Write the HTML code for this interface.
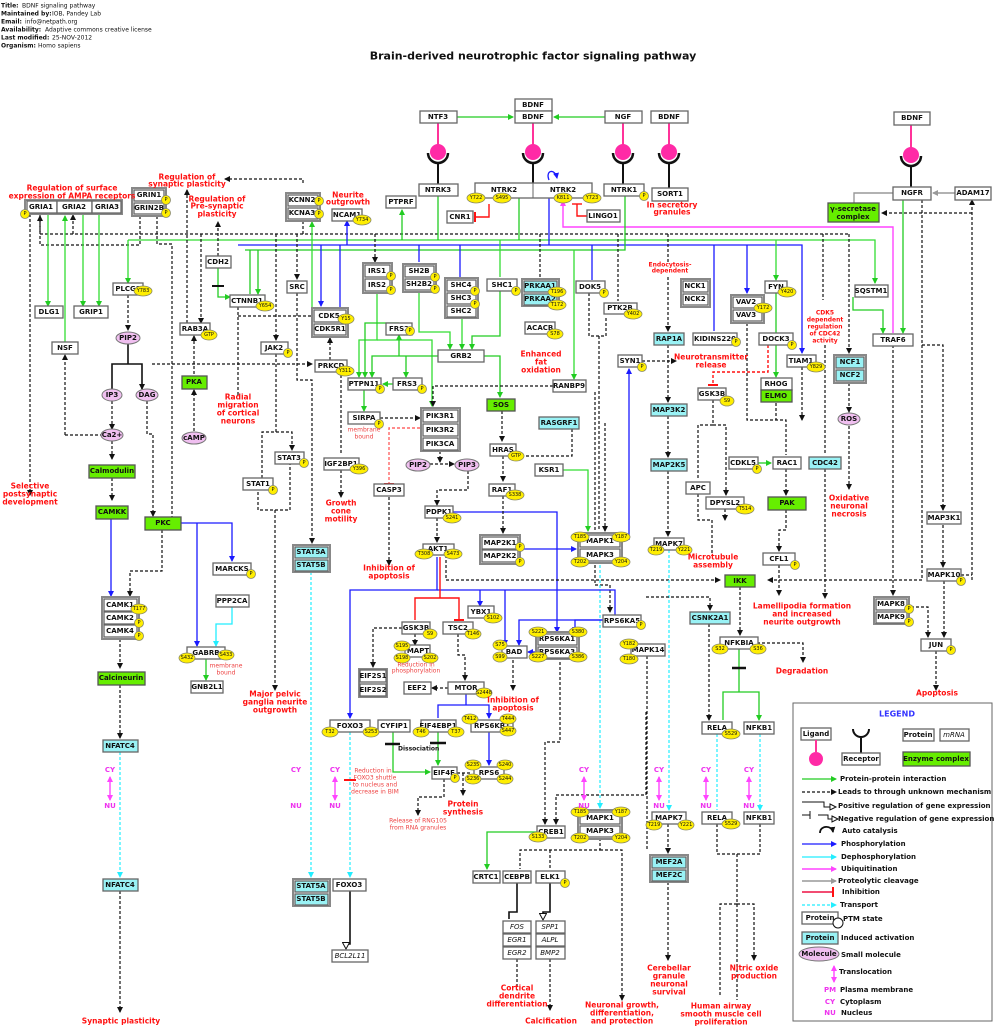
<!DOCTYPE html>
<html><head><meta charset="utf-8"><style>
html,body{margin:0;padding:0;background:#fff}
svg{display:block}
text{font-family:"DejaVu Sans","Liberation Sans",sans-serif;font-weight:bold;font-size:7px;text-anchor:middle;dominant-baseline:central;fill:#111}
.b{fill:#fff;stroke:#666;stroke-width:1.3}
.c{fill:#99f2f5;stroke:#666;stroke-width:1.3}
.g{fill:#66ee00;stroke:#555;stroke-width:1.3}
.gr{fill:#fff;stroke:#888;stroke-width:2}
.p{fill:#ffee00;stroke:#886;stroke-width:.8}
.pt{font-size:5px;font-weight:normal}
.r{fill:#ff1111;font-size:7.5px}
.rs{fill:#ee4444;font-size:6px;font-weight:normal}
.m{fill:#ee33ee;font-size:7px}
.mol{fill:#f0bff0;stroke:#777;stroke-width:1}
.hd{text-anchor:start;font-size:6px;font-weight:normal}
.hb{text-anchor:start;font-size:6px}
.lg{text-anchor:start;font-size:7px}
.i{font-style:italic;font-weight:normal}
.G{stroke:#22cc22;stroke-width:1.3;fill:none}
.L{stroke:#33dd33;stroke-width:1.3;fill:none}
.B{stroke:#1a1aff;stroke-width:1.3;fill:none}
.K{stroke:#111;stroke-width:1.2;fill:none;stroke-dasharray:3,2}
.KS{stroke:#111;stroke-width:1.6;fill:none}
.C{stroke:#22eeff;stroke-width:1.2;fill:none;stroke-dasharray:3,2}
.R{stroke:#ff1111;stroke-width:1.4;fill:none}
.M{stroke:#ff44ff;stroke-width:1.4;fill:none}
.Y{stroke:#999;stroke-width:1.4;fill:none}
.pk{stroke:#ff3399;stroke-width:2;fill:none}
</style></head><body>
<svg width="1000" height="1036" viewBox="0 0 1000 1036" xmlns="http://www.w3.org/2000/svg">
<defs>
<marker id="ag" markerUnits="userSpaceOnUse" markerWidth="6" markerHeight="6" refX="5" refY="3" orient="auto-start-reverse"><path d="M0,0L6,3L0,6z" fill="#22cc22"/></marker>
<marker id="ab" markerUnits="userSpaceOnUse" markerWidth="6" markerHeight="6" refX="5" refY="3" orient="auto-start-reverse"><path d="M0,0L6,3L0,6z" fill="#1a1aff"/></marker>
<marker id="ak" markerUnits="userSpaceOnUse" markerWidth="6" markerHeight="6" refX="5" refY="3" orient="auto-start-reverse"><path d="M0,0L6,3L0,6z" fill="#111"/></marker>
<marker id="ac" markerUnits="userSpaceOnUse" markerWidth="6" markerHeight="6" refX="5" refY="3" orient="auto-start-reverse"><path d="M0,0L6,3L0,6z" fill="#22eeff"/></marker>
<marker id="am" markerUnits="userSpaceOnUse" markerWidth="6" markerHeight="6" refX="5" refY="3" orient="auto-start-reverse"><path d="M0,0L6,3L0,6z" fill="#ff44ff"/></marker>
<marker id="ay" markerUnits="userSpaceOnUse" markerWidth="6" markerHeight="6" refX="5" refY="3" orient="auto-start-reverse"><path d="M0,0L6,3L0,6z" fill="#999"/></marker>
<marker id="ai" markerUnits="userSpaceOnUse" markerWidth="3" markerHeight="10" refX="1.5" refY="5" orient="auto"><path d="M1.5,0V10" stroke="#ff1111" stroke-width="2"/></marker>
<marker id="ao" markerUnits="userSpaceOnUse" markerWidth="8" markerHeight="8" refX="6" refY="4" orient="auto"><path d="M0.5,0.5L7,4L0.5,7.5z" fill="#fff" stroke="#111"/></marker>
</defs>

<!-- header -->
<text class="hb" x="1" y="6">Title:</text><text class="hd" x="22" y="6">BDNF signaling pathway</text>
<text class="hb" x="1" y="14">Maintained by:</text><text class="hd" x="52" y="14">IOB, Pandey Lab</text>
<text class="hb" x="1" y="22">Email:</text><text class="hd" x="25" y="22">info@netpath.org</text>
<text class="hb" x="1" y="30">Availability:</text><text class="hd" x="45" y="30">Adaptive commons creative license</text>
<text class="hb" x="1" y="38">Last modified:</text><text class="hd" x="52" y="38">25-NOV-2012</text>
<text class="hb" x="1" y="46">Organism:</text><text class="hd" x="38" y="46">Homo sapiens</text>
<text x="533" y="56" style="font-size:11px">Brain-derived neurotrophic factor signaling pathway</text>

<!-- ======== EDGES ======== -->
<g>
<path class="G" d="M457,117H513" marker-end="url(#ag)"/><path class="G" d="M605,117H554" marker-end="url(#ag)"/>
<path class="pk" d="M438,123V148M533,123V148M623,123V148M669,123V148M911,125V150"/>
<path class="KS" d="M438,162V184M533,162V183M623,162V184M669,162V188M911,165V187" style="stroke-width:2"/>
<path d="M428,153A10,10 0 0 0 448,153M523,153A10,10 0 0 0 543,153M613,153A10,10 0 0 0 633,153M659,153A10,10 0 0 0 679,153M901,156A10,10 0 0 0 921,156" stroke="#111" stroke-width="2.5" fill="none"/>
<path class="B" d="M549,180C545,170 555,168 557,178" marker-end="url(#ab)"/>
<path class="R" d="M489,204V217H475" marker-end="url(#ai)"/>
<path class="R" d="M577,204V216H587" /><path class="R" d="M572,204H582" />
<path class="Y" d="M955,193H933" marker-end="url(#ay)"/>
<path class="Y" d="M893,193H854V203" />
<path class="K" d="M972,580V200" marker-end="url(#ak)"/><path class="K" d="M972,213H882" marker-end="url(#ak)"/>
<path class="G" d="M903,200V333" marker-end="url(#ag)"/>
<path class="K" d="M922,200V580H768" marker-end="url(#ak)"/>
<path class="K" d="M922,345H943V510" marker-end="url(#ak)"/>
<path class="K" d="M943,525V567" marker-end="url(#ak)"/>
<path class="K" d="M961,575H972"/>
<path class="K" d="M893,345V595" marker-end="url(#ak)"/>
<path class="K" d="M944,581V637" marker-end="url(#ak)"/>
<path class="K" d="M911,607H928V637" marker-end="url(#ak)"/>
<path class="K" d="M936,651V690" marker-end="url(#ak)"/>
<path class="M" d="M893,333V227H563V201" marker-end="url(#am)"/>
<path class="K" d="M40,234H850"/>
<path class="L" d="M128,240H875V283" marker-end="url(#ag)"/>
<path class="B" d="M238,245H802V353" marker-end="url(#ab)"/>
<path class="G" d="M245,250H625V196"/>
<path class="G" d="M438,196V240"/><path class="B" d="M549,198V245"/><path class="G" d="M519,198V240"/>
<path class="K" d="M40,214V234"/><path class="K" d="M30,214V495" marker-end="url(#ak)"/>
<path class="K" d="M140,216V245H40V216" marker-end="url(#ak)"/>
<path class="K" d="M73,234V215" marker-end="url(#ak)"/>
<path class="K" d="M157,216V244H172V528" marker-end="url(#ak)"/>
<path class="K" d="M303,221V234"/>
<path class="K" d="M303,183V179H225" marker-end="url(#ak)"/>
<path class="K" d="M187,323V190" marker-end="url(#ak)"/>
<path class="K" d="M201,234V323" marker-end="url(#ak)"/>
<path class="K" d="M218,256V222" marker-end="url(#ak)"/>
<path class="G" d="M218,268V297H230" marker-end="url(#ag)"/><path d="M212,286H224" stroke="#111" stroke-width="2"/>
<path class="L" d="M48,214V306" marker-end="url(#ag)"/><path class="L" d="M83,214V306" marker-end="url(#ag)"/><path class="L" d="M99,214V306" marker-end="url(#ag)"/>
<path class="L" d="M65,342V216" marker-end="url(#ag)"/>
<path class="L" d="M128,240V283" marker-end="url(#ag)"/>
<path class="K" d="M128,295V330" marker-end="url(#ak)"/>
<path class="KS" d="M128,344V364H112V389M128,364H142V389" marker-end="url(#ak)"/>
<path class="K" d="M112,401V429" marker-end="url(#ak)"/>
<path class="K" d="M65,435H104M65,435V355" marker-end="url(#ak)"/>
<path class="K" d="M112,441V459" marker-end="url(#ak)"/>
<path class="K" d="M112,478V500" marker-end="url(#ak)"/>
<path class="B" d="M111,519V596" marker-end="url(#ab)"/>
<path class="K" d="M147,401V434H153V516" marker-end="url(#ak)"/>
<path class="K" d="M152,364H312" marker-end="url(#ak)"/>
<path class="K" d="M162,530V571H130V596" marker-end="url(#ak)"/>
<path class="B" d="M181,523H232V561" marker-end="url(#ab)"/><path class="B" d="M197,523V646" marker-end="url(#ab)"/>
<path class="B" d="M232,607V624H216V646" style="stroke:#22eeff" marker-end="url(#ac)"/>
<path class="G" d="M206,659V680" marker-end="url(#ag)"/>
<path class="K" d="M120,639V668" marker-end="url(#ak)"/>
<path class="K" d="M120,685V738" marker-end="url(#ak)"/>
<path class="C" d="M120,752V877" marker-end="url(#ac)"/>
<path class="K" d="M120,891V1012" marker-end="url(#ak)"/>
<path class="K" d="M194,389V336" marker-end="url(#ak)"/>
<path class="K" d="M194,431V390" marker-end="url(#ak)"/>
<path class="K" d="M238,307V395"/><path class="K" d="M238,316H312"/>
<path class="K" d="M276,234V340" marker-end="url(#ak)"/>
<path class="K" d="M276,354V432H262V478M276,432H292V450" marker-end="url(#ak)"/>
<path class="K" d="M258,492V510H290V464M275,510V690" marker-end="url(#ak)"/>
<path class="K" d="M297,234V279" marker-end="url(#ak)"/>
<path class="K" d="M297,293V380H312V543" marker-end="url(#ak)"/>
<path class="C" d="M311,572V877" marker-end="url(#ac)"/>
<path class="K" d="M330,360V338" marker-end="url(#ak)"/>
<path class="K" d="M341,370V455M341,470V497" marker-end="url(#ak)"/>
<path class="B" d="M321,245V306" marker-end="url(#ab)"/><path class="B" d="M340,308V245M347,245V221" marker-end="url(#ab)"/>
<path class="L" d="M312,308V222" marker-end="url(#ag)"/>
<path class="G" d="M402,240V210" marker-end="url(#ag)"/>
<path class="K" d="M375,234V262" marker-end="url(#ak)"/>
<path class="B" d="M419,245V262M460,245V277M592,245V280M714,245V331M747,245V293" marker-end="url(#ab)"/>
<path class="K" d="M540,234V277M618,234V301M668,234V263M823,234V300M849,234V353" marker-end="url(#ak)"/>
<path class="L" d="M500,240V277M776,240V280" marker-end="url(#ag)"/>
<path class="L" d="M574,250V379" marker-end="url(#ag)"/>
<path class="G" d="M250,250V294M258,250V294" marker-end="url(#ag)"/>
<path class="L" d="M377,292V340H359V377" marker-end="url(#ag)"/>
<path class="L" d="M377,340H432V406" marker-end="url(#ag)"/>
<path class="L" d="M419,292V332H450V349" marker-end="url(#ag)"/>
<path class="L" d="M462,318V349" marker-end="url(#ag)"/>
<path class="G" d="M500,290V336H472V349" marker-end="url(#ag)"/>
<path class="G" d="M484,356H500V397" marker-end="url(#ag)"/>
<path class="G" d="M438,356H372V377" marker-end="url(#ag)"/>
<path class="G" d="M399,323H365V377" marker-end="url(#ag)"/>
<path class="G" d="M399,356V335" marker-end="url(#ag)"/><path class="G" d="M406,356V377" marker-end="url(#ag)"/>
<path class="G" d="M393,384H383" marker-end="url(#ag)"/>
<path class="G" d="M364,390V411" marker-end="url(#ag)"/>
<path class="K" d="M380,418H420" marker-end="url(#ak)"/>
<path class="K" d="M553,386H433V406" marker-end="url(#ak)"/>
<path class="R" d="M420,428H389V484" marker-end="url(#ai)" style="stroke-dasharray:3,2;stroke:#ff6666"/>
<path class="K" d="M389,497V565" marker-end="url(#ak)"/>
<path class="K" d="M440,451V462" marker-end="url(#ak)"/>
<path class="K" d="M430,464H454" marker-end="url(#ak)"/>
<path class="K" d="M468,471V490H437V505" marker-end="url(#ak)"/>
<path class="K" d="M437,518V542" marker-end="url(#ak)"/>
<path class="B" d="M452,512H557V632" marker-end="url(#ab)"/>
<path class="K" d="M502,411V441" marker-end="url(#ak)"/>
<path class="K" d="M572,429V456H518" marker-end="url(#ak)"/>
<path class="K" d="M503,456V481" marker-end="url(#ak)"/>
<path class="K" d="M503,496V533" marker-end="url(#ak)"/>
<path class="B" d="M521,549H576" marker-end="url(#ab)"/>
<path class="L" d="M563,470H588V531" marker-end="url(#ag)"/>
<path class="K" d="M595,392V531M605,423V531" marker-end="url(#ak)"/>
<path class="B" d="M629,540V369" marker-end="url(#ab)"/>
<path class="K" d="M589,293V336H606V316" />
<path class="K" d="M599,336V531"/>
<path class="K" d="M642,361H676" marker-end="url(#ak)"/>
<path class="K" d="M595,565V585H610V612" marker-end="url(#ak)"/>
<path class="C" d="M600,565V808" marker-end="url(#ac)"/>
<path class="K" d="M446,555V580H720" marker-end="url(#ak)"/>
<path class="K" d="M668,277V331" marker-end="url(#ak)"/>
<path class="K" d="M668,345V402" marker-end="url(#ak)"/>
<path class="K" d="M668,416V457" marker-end="url(#ak)"/>
<path class="K" d="M668,471V536" marker-end="url(#ak)"/>
<path class="C" d="M669,550V810" marker-end="url(#ac)"/>
<path class="K" d="M668,824V853" marker-end="url(#ak)"/>
<path class="K" d="M668,882V960" marker-end="url(#ak)"/>
<path class="R" d="M768,345V372H713V385" marker-end="url(#ai)" style="stroke-dasharray:3,2"/>
<path class="K" d="M713,400V425H698V480M713,425H726V495" marker-end="url(#ak)"/>
<path class="K" d="M698,494V520H712V555M725,509V520" marker-end="url(#ak)"/>
<path class="G" d="M776,293V377" marker-end="url(#ag)"/>
<path class="K" d="M747,323V420H786V455M776,403V420M802,367V420" marker-end="url(#ak)"/>
<path class="G" d="M758,463H771" marker-end="url(#ag)"/>
<path class="K" d="M786,469V495" marker-end="url(#ak)"/>
<path class="K" d="M786,510V530H779V551" marker-end="url(#ak)"/>
<path class="K" d="M779,565V595" marker-end="url(#ak)"/>
<path class="K" d="M825,345V455M825,469V598" marker-end="url(#ak)"/>
<path class="K" d="M849,383V412" marker-end="url(#ak)"/>
<path class="K" d="M849,426V489" marker-end="url(#ak)"/>
<path class="G" d="M853,297V310H883V333" marker-end="url(#ag)"/>
<path class="K" d="M740,587V635" marker-end="url(#ak)"/>
<path class="K" d="M757,643H803V662" marker-end="url(#ak)"/>
<path class="G" d="M739,649V692H723V720M739,692H759V720" marker-end="url(#ag)"/>
<path d="M732,668H746" stroke="#111" stroke-width="2.5"/>
<path class="K" d="M646,597H710V610" marker-end="url(#ak)"/>
<path class="K" d="M709,624V720" marker-end="url(#ak)"/>
<path class="C" d="M717,734V810M760,734V810" marker-end="url(#ac)"/>
<path class="K" d="M717,824V854H760V824M737,854V1000M737,904H720V995M737,904H754V960" marker-end="url(#ak)"/>
<path class="K" d="M647,656V850"/>
<path class="K" d="M600,838V850H520V869M550,850V869M600,850H622V1000" marker-end="url(#ak)"/>
<path class="K" d="M646,712V795H556V824" marker-end="url(#ak)"/>
<path class="K" d="M560,657V742H545V824" marker-end="url(#ak)"/>
<path class="G" d="M537,832H487V869" marker-end="url(#ag)"/>
<path class="KS" d="M517,883V912H509V919M550,883V912H543V919" marker-end="url(#ao)"/>
<path class="K" d="M517,959V990M550,959V1010" marker-end="url(#ak)"/>
<path class="B" d="M437,557V590H350V718" marker-end="url(#ab)"/>
<path class="B" d="M437,590H615V620H575V632" marker-end="url(#ab)"/>
<path class="B" d="M480,590V606" marker-end="url(#ab)"/>
<path class="R" d="M440,557V598H415V620M440,598H459V620" marker-end="url(#ai)"/>
<path class="B" d="M505,590V645" marker-end="url(#ab)"/>
<path class="B" d="M603,620H519V645" marker-end="url(#ab)"/>
<path class="B" d="M536,652H528" marker-end="url(#ab)"/>
<path class="K" d="M513,660V690" marker-end="url(#ak)"/>
<path class="K" d="M402,628H373V667" marker-end="url(#ak)"/>
<path class="K" d="M415,634V645" marker-end="url(#ak)"/>
<path class="K" d="M458,634V655H465V680" marker-end="url(#ak)"/>
<path class="K" d="M448,688H432" marker-end="url(#ak)"/>
<path class="B" d="M466,694V705H438V718M466,705H489V718" marker-end="url(#ab)"/>
<path class="B" d="M489,732V765" marker-end="url(#ab)"/>
<path class="G" d="M438,732V765" marker-end="url(#ag)"/><path d="M430,743H446" stroke="#111" stroke-width="2.5"/>
<path class="G" d="M393,732V772H430" marker-end="url(#ag)"/><path d="M385,744H400" stroke="#111" stroke-width="2.5"/>
<path class="K" d="M457,773H470"/><path class="K" d="M463,773V795" marker-end="url(#ak)"/>
<path class="K" d="M444,779V797H418V815" marker-end="url(#ak)"/>
<path class="C" d="M350,732V877" marker-end="url(#ac)"/>
<path class="KS" d="M350,891V944H346V948" marker-end="url(#ao)"/>
<path d="M344,780H356" stroke="#ff1111" stroke-width="2"/>
<path class="M" d="M110,777V800" marker-end="url(#am)" marker-start="url(#am)"/>
<path class="M" d="M335,777V800" marker-end="url(#am)" marker-start="url(#am)"/>
<path class="M" d="M584,777V800" marker-end="url(#am)" marker-start="url(#am)"/>
<path class="M" d="M659,777V800" marker-end="url(#am)" marker-start="url(#am)"/>
<path class="M" d="M706,777V800" marker-end="url(#am)" marker-start="url(#am)"/>
<path class="M" d="M749,777V800" marker-end="url(#am)" marker-start="url(#am)"/>
</g>

<g fill="#ff2aa6">
<circle cx="438" cy="152" r="8"/><circle cx="533" cy="152" r="8"/><circle cx="623" cy="152" r="8"/><circle cx="669" cy="152" r="8"/><circle cx="911" cy="155" r="8"/>
</g>

<!-- ======== NODES ======== -->
<g>
<rect class="b" x="420" y="111" width="37" height="12"/><text x="438" y="117">NTF3</text>
<rect class="b" x="515" y="99" width="37" height="12"/><text x="533" y="105">BDNF</text>
<rect class="b" x="515" y="111" width="37" height="12"/><text x="533" y="117">BDNF</text>
<rect class="b" x="605" y="111" width="37" height="12"/><text x="623" y="117">NGF</text>
<rect class="b" x="651" y="111" width="37" height="12"/><text x="669" y="117">BDNF</text>
<rect class="b" x="894" y="112" width="36" height="13"/><text x="912" y="118">BDNF</text>
<rect class="b" x="419" y="184" width="39" height="12"/><text x="438" y="190">NTRK3</text>
<rect class="b" x="475" y="183" width="117" height="15"/><line x1="533" y1="183" x2="533" y2="198" stroke="#666"/>
<text x="504" y="190">NTRK2</text><text x="563" y="190">NTRK2</text>
<rect class="b" x="604" y="184" width="40" height="12"/><text x="624" y="190">NTRK1</text>
<rect class="b" x="652" y="188" width="36" height="13"/><text x="670" y="194">SORT1</text>
<rect class="b" x="893" y="187" width="38" height="13"/><text x="912" y="193">NGFR</text>
<rect class="b" x="955" y="187" width="36" height="13"/><text x="973" y="193">ADAM17</text>
<rect class="g" x="828" y="203" width="51" height="19"/><text x="853" y="209">γ-secretase</text><text x="853" y="217">complex</text>
<rect class="b" x="587" y="210" width="33" height="12"/><text x="603" y="216">LINGO1</text>
<rect class="b" x="447" y="211" width="26" height="12"/><text x="460" y="217">CNR1</text>
<rect class="b" x="386" y="196" width="30" height="12"/><text x="401" y="202">PTPRF</text>
<rect class="b" x="332" y="209" width="30" height="12"/><text x="347" y="215">NCAM1</text>
<rect class="gr" x="286" y="193" width="34" height="28"/><rect class="b" x="288" y="195" width="30" height="11"/><rect class="b" x="288" y="208" width="30" height="11"/><text x="302" y="200">KCNN2</text><text x="302" y="213">KCNA3</text>
<rect class="gr" x="132" y="188" width="34" height="28"/><rect class="b" x="134" y="190" width="30" height="11"/><rect class="b" x="134" y="203" width="30" height="11"/><text x="149" y="195">GRIN1</text><text x="149" y="208">GRIN2B</text>
<rect class="gr" x="25" y="200" width="97" height="14"/><rect class="b" x="27" y="201" width="30" height="12"/><rect class="b" x="57" y="201" width="35" height="12"/><rect class="b" x="92" y="201" width="29" height="12"/>
<text x="41" y="207">GRIA1</text><text x="74" y="207">GRIA2</text><text x="107" y="207">GRIA3</text>
<rect class="b" x="206" y="256" width="25" height="12"/><text x="218" y="262">CDH2</text>
<rect class="b" x="230" y="295" width="35" height="12"/><text x="247" y="301">CTNNB1</text>
<rect class="b" x="287" y="281" width="20" height="12"/><text x="297" y="287">SRC</text>
<rect class="b" x="113" y="283" width="30" height="12"/><text x="128" y="289">PLCG1</text>
<rect class="b" x="35" y="306" width="28" height="12"/><text x="49" y="312">DLG1</text>
<rect class="b" x="74" y="306" width="34" height="12"/><text x="91" y="312">GRIP1</text>
<rect class="gr" x="363" y="263" width="29" height="30"/><rect class="b" x="365" y="265" width="25" height="12"/><rect class="b" x="365" y="279" width="25" height="12"/><text x="377" y="271">IRS1</text><text x="377" y="285">IRS2</text>
<rect class="gr" x="403" y="264" width="33" height="28"/><rect class="b" x="405" y="266" width="29" height="11"/><rect class="b" x="405" y="279" width="29" height="11"/><text x="419" y="271">SH2B</text><text x="419" y="284">SH2B2</text>
<rect class="gr" x="445" y="278" width="33" height="40"/><rect class="b" x="447" y="280" width="29" height="11"/><rect class="b" x="447" y="293" width="29" height="11"/><rect class="b" x="447" y="306" width="29" height="11"/><text x="461" y="285">SHC4</text><text x="461" y="298">SHC3</text><text x="461" y="311">SHC2</text>
<rect class="b" x="487" y="279" width="30" height="12"/><text x="502" y="285">SHC1</text>
<rect class="gr" x="522" y="279" width="37" height="27"/><rect class="c" x="524" y="281" width="33" height="11"/><rect class="c" x="524" y="294" width="33" height="11"/><text x="540" y="286">PRKAA1</text><text x="540" y="299">PRKAA2</text>
<rect class="b" x="576" y="281" width="29" height="12"/><text x="590" y="287">DOK5</text>
<rect class="b" x="604" y="303" width="33" height="11"/><text x="620" y="308">PTK2B</text>
<rect class="gr" x="681" y="279" width="29" height="28"/><rect class="b" x="683" y="281" width="25" height="11"/><rect class="b" x="683" y="294" width="25" height="11"/><text x="695" y="286">NCK1</text><text x="695" y="299">NCK2</text>
<rect class="gr" x="731" y="295" width="33" height="28"/><rect class="b" x="733" y="297" width="29" height="11"/><rect class="b" x="733" y="310" width="29" height="11"/><text x="746" y="302">VAV2</text><text x="746" y="315">VAV3</text>
<rect class="b" x="765" y="281" width="22" height="12"/><text x="776" y="287">FYN</text>
<rect class="b" x="855" y="285" width="33" height="12"/><text x="871" y="291">SQSTM1</text>
<rect class="b" x="873" y="334" width="40" height="12"/><text x="893" y="340">TRAF6</text>
<rect class="b" x="693" y="333" width="44" height="12"/><text x="715" y="339">KIDINS220</text>
<rect class="b" x="759" y="333" width="34" height="12"/><text x="776" y="339">DOCK3</text>
<rect class="b" x="787" y="355" width="29" height="12"/><text x="801" y="361">TIAM1</text>
<rect class="b" x="761" y="378" width="31" height="12"/><text x="776" y="384">RHOG</text>
<rect class="g" x="761" y="390" width="31" height="12"/><text x="776" y="396">ELMO</text>
<rect class="gr" x="834" y="355" width="32" height="28"/><rect class="c" x="836" y="357" width="28" height="11"/><rect class="c" x="836" y="370" width="28" height="11"/><text x="850" y="362">NCF1</text><text x="850" y="375">NCF2</text>
<rect class="c" x="654" y="333" width="30" height="12"/><text x="669" y="339">RAP1A</text>
<rect class="b" x="618" y="355" width="24" height="12"/><text x="630" y="361">SYN1</text>
<rect class="b" x="698" y="388" width="28" height="12"/><text x="712" y="394">GSK3B</text>
<rect class="c" x="651" y="404" width="36" height="12"/><text x="669" y="410">MAP3K2</text>
<ellipse class="mol" cx="849" cy="419" rx="11" ry="6"/><text x="849" y="419">ROS</text>
<rect class="b" x="729" y="457" width="29" height="12"/><text x="743" y="463">CDKL5</text>
<rect class="b" x="773" y="457" width="28" height="12"/><text x="787" y="463">RAC1</text>
<rect class="c" x="809" y="457" width="32" height="12"/><text x="825" y="463">CDC42</text>
<rect class="c" x="651" y="459" width="36" height="12"/><text x="669" y="465">MAP2K5</text>
<rect class="b" x="686" y="482" width="24" height="12"/><text x="698" y="488">APC</text>
<rect class="b" x="706" y="497" width="38" height="12"/><text x="725" y="503">DPYSL2</text>
<rect class="g" x="768" y="497" width="38" height="13"/><text x="787" y="503">PAK</text>
<rect class="b" x="927" y="512" width="34" height="12"/><text x="944" y="518">MAP3K1</text>
<rect class="b" x="654" y="538" width="30" height="12"/><text x="669" y="544">MAPK7</text>
<rect class="b" x="763" y="553" width="32" height="12"/><text x="779" y="559">CFL1</text>
<rect class="b" x="927" y="569" width="34" height="12"/><text x="944" y="575">MAPK10</text>
<rect class="g" x="725" y="575" width="30" height="12"/><text x="740" y="581">IKK</text>
<rect class="gr" x="874" y="597" width="35" height="27"/><rect class="b" x="876" y="599" width="31" height="11"/><rect class="b" x="876" y="612" width="31" height="11"/><text x="891" y="604">MAPK8</text><text x="891" y="617">MAPK9</text>
<rect class="b" x="921" y="639" width="30" height="12"/><text x="936" y="645">JUN</text>
<rect class="b" x="720" y="637" width="38" height="12"/><text x="739" y="643">NFKBIA</text>
<rect class="c" x="690" y="612" width="40" height="12"/><text x="710" y="618">CSNK2A1</text>
<rect class="b" x="603" y="615" width="38" height="12"/><text x="622" y="621">RPS6KA5</text>
<rect class="b" x="631" y="644" width="34" height="12"/><text x="648" y="650">MAPK14</text>
<rect class="b" x="702" y="722" width="30" height="12"/><text x="717" y="728">RELA</text>
<rect class="b" x="744" y="722" width="30" height="12"/><text x="759" y="728">NFKB1</text>
<rect class="b" x="702" y="812" width="30" height="12"/><text x="717" y="818">RELA</text>
<rect class="b" x="744" y="812" width="30" height="12"/><text x="759" y="818">NFKB1</text>
<rect class="b" x="652" y="812" width="34" height="12"/><text x="669" y="818">MAPK7</text>
<rect class="gr" x="650" y="855" width="38" height="27"/><rect class="c" x="652" y="857" width="34" height="11"/><rect class="c" x="652" y="870" width="34" height="11"/><text x="669" y="862">MEF2A</text><text x="669" y="875">MEF2C</text>
<rect class="gr" x="578" y="533" width="44" height="30"/><rect class="b" x="580" y="535" width="40" height="12"/><rect class="b" x="580" y="549" width="40" height="12"/><text x="600" y="541">MAPK1</text><text x="600" y="555">MAPK3</text>
<rect class="gr" x="578" y="810" width="44" height="29"/><rect class="b" x="580" y="812" width="40" height="12"/><rect class="b" x="580" y="826" width="40" height="11"/><text x="600" y="818">MAPK1</text><text x="600" y="831">MAPK3</text>
<rect class="b" x="537" y="826" width="28" height="12"/><text x="551" y="832">CREB1</text>
<rect class="b" x="473" y="871" width="27" height="12"/><text x="486" y="877">CRTC1</text>
<rect class="b" x="503" y="871" width="28" height="12"/><text x="517" y="877">CEBPB</text>
<rect class="b" x="536" y="871" width="29" height="12"/><text x="550" y="877">ELK1</text>
<rect class="b" x="503" y="921" width="28" height="12"/><text class="i" x="517" y="927">FOS</text>
<rect class="b" x="503" y="934" width="28" height="12"/><text class="i" x="517" y="940">EGR1</text>
<rect class="b" x="503" y="947" width="28" height="12"/><text class="i" x="517" y="953">EGR2</text>
<rect class="b" x="536" y="921" width="29" height="12"/><text class="i" x="550" y="927">SPP1</text>
<rect class="b" x="536" y="934" width="29" height="12"/><text class="i" x="550" y="940">ALPL</text>
<rect class="b" x="536" y="947" width="29" height="12"/><text class="i" x="550" y="953">BMP2</text>
<rect class="b" x="535" y="464" width="28" height="12"/><text x="549" y="470">KSR1</text>
<rect class="c" x="539" y="417" width="40" height="12"/><text x="559" y="423">RASGRF1</text>
<rect class="g" x="487" y="399" width="28" height="12"/><text x="501" y="405">SOS</text>
<rect class="b" x="490" y="444" width="26" height="12"/><text x="503" y="450">HRAS</text>
<rect class="b" x="489" y="484" width="26" height="12"/><text x="502" y="490">RAF1</text>
<rect class="gr" x="480" y="535" width="40" height="29"/><rect class="b" x="482" y="537" width="36" height="12"/><rect class="b" x="482" y="550" width="36" height="12"/><text x="500" y="543">MAP2K1</text><text x="500" y="556">MAP2K2</text>
<rect class="b" x="553" y="380" width="33" height="12"/><text x="569" y="386">RANBP9</text>
<rect class="b" x="525" y="322" width="30" height="12"/><text x="540" y="328">ACACB</text>
<rect class="b" x="438" y="350" width="46" height="12"/><text x="461" y="356">GRB2</text>
<rect class="b" x="386" y="323" width="26" height="12"/><text x="399" y="329">FRS2</text>
<rect class="b" x="393" y="378" width="29" height="12"/><text x="407" y="384">FRS3</text>
<rect class="b" x="348" y="378" width="33" height="12"/><text x="364" y="384">PTPN11</text>
<rect class="b" x="348" y="412" width="32" height="12"/><text x="364" y="418">SIRPA</text>
<rect class="gr" x="421" y="408" width="39" height="43"/><rect class="b" x="423" y="410" width="35" height="12"/><rect class="b" x="423" y="424" width="35" height="12"/><rect class="b" x="423" y="438" width="35" height="12"/>
<text x="440" y="416">PIK3R1</text><text x="440" y="430">PIK3R2</text><text x="440" y="444">PIK3CA</text>
<ellipse class="mol" cx="418" cy="465" rx="12" ry="6"/><text x="418" y="465">PIP2</text>
<ellipse class="mol" cx="467" cy="465" rx="12" ry="6"/><text x="467" y="465">PIP3</text>
<rect class="b" x="324" y="458" width="35" height="12"/><text x="341" y="464">IGF2BP1</text>
<rect class="b" x="374" y="484" width="30" height="12"/><text x="389" y="490">CASP3</text>
<rect class="b" x="425" y="506" width="28" height="12"/><text x="439" y="512">PDPK1</text>
<rect class="b" x="423" y="544" width="31" height="11"/><text x="438" y="549">AKT1</text>
<rect class="b" x="275" y="452" width="29" height="12"/><text x="289" y="458">STAT3</text>
<rect class="b" x="243" y="478" width="30" height="12"/><text x="258" y="484">STAT1</text>
<rect class="b" x="261" y="342" width="27" height="12"/><text x="274" y="348">JAK2</text>
<rect class="b" x="315" y="360" width="32" height="12"/><text x="331" y="366">PRKCD</text>
<rect class="gr" x="312" y="308" width="36" height="29"/><rect class="b" x="314" y="310" width="32" height="12"/><rect class="b" x="314" y="324" width="32" height="11"/><text x="329" y="316">CDK5</text><text x="330" y="329">CDK5R1</text>
<rect class="b" x="180" y="323" width="30" height="12"/><text x="195" y="329">RAB3A</text>
<rect class="g" x="182" y="376" width="25" height="13"/><text x="194" y="382">PKA</text>
<ellipse class="mol" cx="194" cy="438" rx="12" ry="6"/><text x="194" y="438">cAMP</text>
<ellipse class="mol" cx="128" cy="338" rx="12" ry="6"/><text x="128" y="338">PIP2</text>
<ellipse class="mol" cx="112" cy="395" rx="10" ry="6"/><text x="112" y="395">IP3</text>
<ellipse class="mol" cx="147" cy="395" rx="11" ry="6"/><text x="147" y="395">DAG</text>
<ellipse class="mol" cx="112" cy="435" rx="11" ry="6"/><text x="112" y="435">Ca2+</text>
<rect class="b" x="52" y="342" width="26" height="12"/><text x="65" y="348">NSF</text>
<rect class="g" x="89" y="465" width="46" height="13"/><text x="112" y="471">Calmodulin</text>
<rect class="g" x="96" y="506" width="32" height="13"/><text x="112" y="512">CAMKK</text>
<rect class="g" x="145" y="517" width="36" height="13"/><text x="163" y="523">PKC</text>
<rect class="b" x="213" y="563" width="38" height="12"/><text x="232" y="569">MARCKS</text>
<rect class="b" x="216" y="595" width="33" height="12"/><text x="232" y="601">PPP2CA</text>
<rect class="b" x="187" y="647" width="38" height="12"/><text x="206" y="653">GABRB</text>
<rect class="b" x="191" y="681" width="32" height="12"/><text x="207" y="687">GNB2L1</text>
<rect class="gr" x="102" y="597" width="37" height="42"/><rect class="b" x="104" y="599" width="33" height="12"/><rect class="b" x="104" y="612" width="33" height="12"/><rect class="b" x="104" y="625" width="33" height="12"/>
<text x="120" y="605">CAMK1</text><text x="120" y="618">CAMK2</text><text x="120" y="631">CAMK4</text>
<rect class="g" x="98" y="672" width="47" height="13"/><text x="121" y="678">Calcineurin</text>
<rect class="c" x="103" y="740" width="35" height="12"/><text x="120" y="746">NFATC4</text>
<rect class="c" x="103" y="879" width="35" height="12"/><text x="120" y="885">NFATC4</text>
<rect class="gr" x="293" y="545" width="37" height="27"/><rect class="c" x="295" y="547" width="33" height="11"/><rect class="c" x="295" y="560" width="33" height="11"/><text x="311" y="552">STAT5A</text><text x="311" y="565">STAT5B</text>
<rect class="gr" x="293" y="879" width="37" height="27"/><rect class="c" x="295" y="881" width="33" height="11"/><rect class="c" x="295" y="894" width="33" height="11"/><text x="311" y="886">STAT5A</text><text x="311" y="899">STAT5B</text>
<rect class="b" x="330" y="720" width="40" height="12"/><text x="350" y="726">FOXO3</text>
<rect class="b" x="378" y="720" width="32" height="12"/><text x="394" y="726">CYFIP1</text>
<rect class="gr" x="359" y="669" width="28" height="28"/><rect class="b" x="360" y="670" width="26" height="12"/><rect class="b" x="360" y="684" width="26" height="12"/><text x="373" y="676">EIF2S1</text><text x="373" y="690">EIF2S2</text>
<rect class="b" x="402" y="622" width="28" height="12"/><text x="416" y="628">GSK3B</text>
<rect class="b" x="405" y="645" width="25" height="12"/><text x="418" y="651">MAPT</text>
<rect class="b" x="443" y="622" width="30" height="12"/><text x="458" y="628">TSC2</text>
<rect class="b" x="468" y="606" width="26" height="12"/><text x="481" y="612">YBX1</text>
<rect class="b" x="502" y="646" width="25" height="12"/><text x="514" y="652">BAD</text>
<rect class="gr" x="536" y="632" width="43" height="27"/><rect class="b" x="538" y="634" width="39" height="11"/><rect class="b" x="538" y="647" width="39" height="11"/><text x="557" y="639">RPS6KA1</text><text x="557" y="652">RPS6KA3</text>
<rect class="b" x="448" y="682" width="36" height="12"/><text x="466" y="688">MTOR</text>
<rect class="b" x="404" y="682" width="27" height="12"/><text x="417" y="688">EEF2</text>
<rect class="b" x="421" y="720" width="35" height="12"/><text x="438" y="726">EIF4EBP1</text>
<rect class="b" x="471" y="720" width="42" height="12"/><text x="492" y="726">RPS6KB1</text>
<rect class="b" x="432" y="767" width="25" height="12"/><text x="444" y="773">EIF4E</text>
<rect class="b" x="474" y="767" width="30" height="12"/><text x="489" y="773">RPS6</text>
<rect class="b" x="333" y="879" width="33" height="12"/><text x="349" y="885">FOXO3</text>
<rect class="b" x="332" y="950" width="36" height="12"/><text class="i" x="350" y="956">BCL2L11</text>
</g>

<!-- ======== P / site badges ======== -->
<g>
<circle class="p" cx="25" cy="214" r="4.5"/><circle class="p" cx="166" cy="200" r="4.5"/><circle class="p" cx="166" cy="213" r="4.5"/>
<circle class="p" cx="319" cy="201" r="4.5"/><circle class="p" cx="319" cy="214" r="4.5"/><circle class="p" cx="391" cy="276" r="4.5"/><circle class="p" cx="391" cy="290" r="4.5"/>
<circle class="p" cx="435" cy="277" r="4.5"/><circle class="p" cx="435" cy="289" r="4.5"/><circle class="p" cx="475" cy="291" r="4.5"/><circle class="p" cx="475" cy="304" r="4.5"/>
<circle class="p" cx="516" cy="291" r="4.5"/><circle class="p" cx="604" cy="293" r="4.5"/><circle class="p" cx="644" cy="196" r="4.5"/><circle class="p" cx="736" cy="342" r="4.5"/>
<circle class="p" cx="792" cy="345" r="4.5"/><circle class="p" cx="642" cy="367" r="4.5"/><circle class="p" cx="288" cy="353" r="4.5"/><circle class="p" cx="410" cy="331" r="4.5"/>
<circle class="p" cx="422" cy="389" r="4.5"/><circle class="p" cx="380" cy="389" r="4.5"/><circle class="p" cx="379" cy="424" r="4.5"/><circle class="p" cx="304" cy="463" r="4.5"/>
<circle class="p" cx="273" cy="490" r="4.5"/><circle class="p" cx="757" cy="469" r="4.5"/><circle class="p" cx="795" cy="565" r="4.5"/><circle class="p" cx="961" cy="581" r="4.5"/>
<circle class="p" cx="909" cy="609" r="4.5"/><circle class="p" cx="909" cy="622" r="4.5"/><circle class="p" cx="951" cy="650" r="4.5"/><circle class="p" cx="641" cy="625" r="4.5"/>
<circle class="p" cx="520" cy="547" r="4.5"/><circle class="p" cx="520" cy="562" r="4.5"/><circle class="p" cx="251" cy="574" r="4.5"/><circle class="p" cx="139" cy="623" r="4.5"/>
<circle class="p" cx="139" cy="636" r="4.5"/><circle class="p" cx="565" cy="883" r="4.5"/><circle class="p" cx="455" cy="778" r="4.5"/>
<text class="pt" x="25" y="214">P</text><text class="pt" x="166" y="200">P</text><text class="pt" x="166" y="213">P</text><text class="pt" x="319" y="201">P</text><text class="pt" x="319" y="214">P</text>
<text class="pt" x="391" y="276">P</text><text class="pt" x="391" y="290">P</text><text class="pt" x="435" y="277">P</text><text class="pt" x="435" y="289">P</text><text class="pt" x="475" y="291">P</text>
<text class="pt" x="475" y="304">P</text><text class="pt" x="516" y="291">P</text><text class="pt" x="604" y="293">P</text><text class="pt" x="644" y="196">P</text><text class="pt" x="736" y="342">P</text>
<text class="pt" x="792" y="345">P</text><text class="pt" x="642" y="367">P</text><text class="pt" x="288" y="353">P</text><text class="pt" x="410" y="331">P</text><text class="pt" x="422" y="389">P</text>
<text class="pt" x="380" y="389">P</text><text class="pt" x="379" y="424">P</text><text class="pt" x="304" y="463">P</text><text class="pt" x="273" y="490">P</text><text class="pt" x="757" y="469">P</text>
<text class="pt" x="795" y="565">P</text><text class="pt" x="961" y="581">P</text><text class="pt" x="909" y="609">P</text><text class="pt" x="909" y="622">P</text><text class="pt" x="951" y="650">P</text>
<text class="pt" x="641" y="625">P</text><text class="pt" x="520" y="547">P</text><text class="pt" x="520" y="562">P</text><text class="pt" x="251" y="574">P</text><text class="pt" x="139" y="623">P</text>
<text class="pt" x="139" y="636">P</text><text class="pt" x="565" y="883">P</text><text class="pt" x="455" y="778">P</text>

<ellipse class="p" cx="476" cy="198" rx="9" ry="5"/><text class="pt" x="476" y="198">Y722</text>
<ellipse class="p" cx="502" cy="198" rx="9" ry="5"/><text class="pt" x="502" y="198">S495</text>
<ellipse class="p" cx="563" cy="198" rx="9" ry="5"/><text class="pt" x="563" y="198">K811</text>
<ellipse class="p" cx="592" cy="198" rx="9" ry="5"/><text class="pt" x="592" y="198">Y723</text>
<ellipse class="p" cx="362" cy="220" rx="9" ry="5"/><text class="pt" x="362" y="220">Y734</text>
<ellipse class="p" cx="143" cy="291" rx="9" ry="5"/><text class="pt" x="143" y="291">Y783</text>
<ellipse class="p" cx="265" cy="306" rx="9" ry="5"/><text class="pt" x="265" y="306">Y654</text>
<ellipse class="p" cx="346" cy="319" rx="8" ry="5"/><text class="pt" x="346" y="319">Y15</text>
<ellipse class="p" cx="345" cy="371" rx="9" ry="5"/><text class="pt" x="345" y="371">Y311</text>
<ellipse class="p" cx="209" cy="335" rx="8" ry="5"/><text class="pt" x="209" y="335">GTP</text>
<ellipse class="p" cx="557" cy="292" rx="9" ry="5"/><text class="pt" x="557" y="292">T196</text>
<ellipse class="p" cx="557" cy="305" rx="9" ry="5"/><text class="pt" x="557" y="305">T172</text>
<ellipse class="p" cx="555" cy="334" rx="8" ry="5"/><text class="pt" x="555" y="334">S78</text>
<ellipse class="p" cx="633" cy="314" rx="9" ry="5"/><text class="pt" x="633" y="314">Y402</text>
<ellipse class="p" cx="787" cy="292" rx="9" ry="5"/><text class="pt" x="787" y="292">Y420</text>
<ellipse class="p" cx="763" cy="308" rx="9" ry="5"/><text class="pt" x="763" y="308">Y172</text>
<ellipse class="p" cx="816" cy="367" rx="9" ry="5"/><text class="pt" x="816" y="367">Y829</text>
<ellipse class="p" cx="727" cy="401" rx="7" ry="5"/><text class="pt" x="727" y="401">S9</text>
<ellipse class="p" cx="516" cy="456" rx="8" ry="5"/><text class="pt" x="516" y="456">GTP</text>
<ellipse class="p" cx="515" cy="495" rx="9" ry="5"/><text class="pt" x="515" y="495">S338</text>
<ellipse class="p" cx="359" cy="469" rx="9" ry="5"/><text class="pt" x="359" y="469">Y396</text>
<ellipse class="p" cx="452" cy="518" rx="9" ry="5"/><text class="pt" x="452" y="518">S241</text>
<ellipse class="p" cx="424" cy="554" rx="9" ry="5"/><text class="pt" x="424" y="554">T308</text>
<ellipse class="p" cx="453" cy="554" rx="9" ry="5"/><text class="pt" x="453" y="554">S473</text>
<ellipse class="p" cx="580" cy="537" rx="9" ry="5"/><text class="pt" x="580" y="537">T185</text>
<ellipse class="p" cx="621" cy="537" rx="9" ry="5"/><text class="pt" x="621" y="537">Y187</text>
<ellipse class="p" cx="580" cy="562" rx="9" ry="5"/><text class="pt" x="580" y="562">T202</text>
<ellipse class="p" cx="621" cy="562" rx="9" ry="5"/><text class="pt" x="621" y="562">Y204</text>
<ellipse class="p" cx="656" cy="550" rx="8" ry="5"/><text class="pt" x="656" y="550">T219</text>
<ellipse class="p" cx="684" cy="550" rx="8" ry="5"/><text class="pt" x="684" y="550">Y221</text>
<ellipse class="p" cx="745" cy="509" rx="9" ry="5"/><text class="pt" x="745" y="509">T514</text>
<ellipse class="p" cx="720" cy="649" rx="8" ry="5"/><text class="pt" x="720" y="649">S32</text>
<ellipse class="p" cx="758" cy="649" rx="8" ry="5"/><text class="pt" x="758" y="649">S36</text>
<ellipse class="p" cx="731" cy="734" rx="9" ry="5"/><text class="pt" x="731" y="734">S529</text>
<ellipse class="p" cx="731" cy="824" rx="9" ry="5"/><text class="pt" x="731" y="824">S529</text>
<ellipse class="p" cx="629" cy="644" rx="9" ry="5"/><text class="pt" x="629" y="644">Y182</text>
<ellipse class="p" cx="629" cy="659" rx="9" ry="5"/><text class="pt" x="629" y="659">T180</text>
<ellipse class="p" cx="538" cy="632" rx="9" ry="5"/><text class="pt" x="538" y="632">S221</text>
<ellipse class="p" cx="578" cy="632" rx="9" ry="5"/><text class="pt" x="578" y="632">S380</text>
<ellipse class="p" cx="538" cy="657" rx="9" ry="5"/><text class="pt" x="538" y="657">S227</text>
<ellipse class="p" cx="578" cy="657" rx="9" ry="5"/><text class="pt" x="578" y="657">S386</text>
<ellipse class="p" cx="500" cy="645" rx="7" ry="5"/><text class="pt" x="500" y="645">S75</text>
<ellipse class="p" cx="500" cy="657" rx="7" ry="5"/><text class="pt" x="500" y="657">S99</text>
<ellipse class="p" cx="493" cy="618" rx="9" ry="5"/><text class="pt" x="493" y="618">S102</text>
<ellipse class="p" cx="473" cy="634" rx="8" ry="5"/><text class="pt" x="473" y="634">T146</text>
<ellipse class="p" cx="430" cy="634" rx="7" ry="5"/><text class="pt" x="430" y="634">S9</text>
<ellipse class="p" cx="402" cy="646" rx="8" ry="5"/><text class="pt" x="402" y="646">S195</text>
<ellipse class="p" cx="402" cy="658" rx="8" ry="5"/><text class="pt" x="402" y="658">S198</text>
<ellipse class="p" cx="430" cy="658" rx="8" ry="5"/><text class="pt" x="430" y="658">S202</text>
<ellipse class="p" cx="484" cy="693" rx="8" ry="5"/><text class="pt" x="484" y="693">S2448</text>
<ellipse class="p" cx="330" cy="732" rx="8" ry="5"/><text class="pt" x="330" y="732">T32</text>
<ellipse class="p" cx="371" cy="732" rx="8" ry="5"/><text class="pt" x="371" y="732">S253</text>
<ellipse class="p" cx="421" cy="732" rx="8" ry="5"/><text class="pt" x="421" y="732">T46</text>
<ellipse class="p" cx="456" cy="732" rx="8" ry="5"/><text class="pt" x="456" y="732">T37</text>
<ellipse class="p" cx="470" cy="719" rx="8" ry="5"/><text class="pt" x="470" y="719">T412</text>
<ellipse class="p" cx="508" cy="719" rx="8" ry="5"/><text class="pt" x="508" y="719">T444</text>
<ellipse class="p" cx="508" cy="731" rx="8" ry="5"/><text class="pt" x="508" y="731">S447</text>
<ellipse class="p" cx="473" cy="765" rx="8" ry="5"/><text class="pt" x="473" y="765">S235</text>
<ellipse class="p" cx="505" cy="765" rx="8" ry="5"/><text class="pt" x="505" y="765">S240</text>
<ellipse class="p" cx="473" cy="779" rx="8" ry="5"/><text class="pt" x="473" y="779">S236</text>
<ellipse class="p" cx="505" cy="779" rx="8" ry="5"/><text class="pt" x="505" y="779">S244</text>
<ellipse class="p" cx="187" cy="658" rx="8" ry="5"/><text class="pt" x="187" y="658">S432</text>
<ellipse class="p" cx="226" cy="655" rx="8" ry="5"/><text class="pt" x="226" y="655">S433</text>
<ellipse class="p" cx="139" cy="609" rx="8" ry="5"/><text class="pt" x="139" y="609">T177</text>
<ellipse class="p" cx="580" cy="812" rx="9" ry="5"/><text class="pt" x="580" y="812">T185</text>
<ellipse class="p" cx="621" cy="812" rx="9" ry="5"/><text class="pt" x="621" y="812">Y187</text>
<ellipse class="p" cx="580" cy="838" rx="9" ry="5"/><text class="pt" x="580" y="838">T202</text>
<ellipse class="p" cx="621" cy="838" rx="9" ry="5"/><text class="pt" x="621" y="838">Y204</text>
<ellipse class="p" cx="654" cy="825" rx="8" ry="5"/><text class="pt" x="654" y="825">T219</text>
<ellipse class="p" cx="686" cy="825" rx="8" ry="5"/><text class="pt" x="686" y="825">Y221</text>
<ellipse class="p" cx="538" cy="837" rx="9" ry="5"/><text class="pt" x="538" y="837">S133</text>
</g>

<!-- ======== RED LABELS ======== -->
<g>
<text class="r" x="72" y="188">Regulation of surface</text><text class="r" x="72" y="196">expression of AMPA receptors</text>
<text class="r" x="187" y="177">Regulation of</text><text class="r" x="187" y="184">synaptic plasticity</text>
<text class="r" x="217" y="199">Regulation of</text><text class="r" x="217" y="206">Pre-synaptic</text><text class="r" x="217" y="214">plasticity</text>
<text class="r" x="348" y="195">Neurite</text><text class="r" x="348" y="202">outgrowth</text>
<text class="r" x="672" y="205">In secretory</text><text class="r" x="672" y="212">granules</text>
<text class="r" x="670" y="265" style="font-size:6px">Endocytosis-</text><text class="r" x="670" y="271" style="font-size:6px">dependent</text>
<text class="r" x="825" y="313" style="font-size:6px">CDK5</text><text class="r" x="825" y="320" style="font-size:6px">dependent</text><text class="r" x="825" y="327" style="font-size:6px">regulation</text><text class="r" x="825" y="334" style="font-size:6px">of CDC42</text><text class="r" x="825" y="341" style="font-size:6px">activity</text>
<text class="r" x="541" y="354">Enhanced</text><text class="r" x="541" y="362">fat</text><text class="r" x="541" y="370">oxidation</text>
<text class="r" x="711" y="357">Neurotransmitter</text><text class="r" x="711" y="365">release</text>
<text class="r" x="30" y="486">Selective</text><text class="r" x="30" y="494">postsynaptic</text><text class="r" x="30" y="502">development</text>
<text class="r" x="238" y="397">Radial</text><text class="r" x="238" y="405">migration</text><text class="r" x="238" y="413">of cortical</text><text class="r" x="238" y="421">neurons</text>
<text class="r" x="341" y="503">Growth</text><text class="r" x="341" y="511">cone</text><text class="r" x="341" y="519">motility</text>
<text class="r" x="389" y="568">Inhibition of</text><text class="r" x="389" y="576">apoptosis</text>
<text class="r" x="513" y="700">Inhibition of</text><text class="r" x="513" y="708">apoptosis</text>
<text class="r" x="275" y="694">Major pelvic</text><text class="r" x="275" y="702">ganglia neurite</text><text class="r" x="275" y="710">outgrowth</text>
<text class="r" x="713" y="557">Microtubule</text><text class="r" x="713" y="565">assembly</text>
<text class="r" x="849" y="498">Oxidative</text><text class="r" x="849" y="506">neuronal</text><text class="r" x="849" y="514">necrosis</text>
<text class="r" x="802" y="606">Lamellipodia formation</text><text class="r" x="802" y="614">and increased</text><text class="r" x="802" y="622">neurite outgrowth</text>
<text class="r" x="802" y="671">Degradation</text>
<text class="r" x="937" y="693">Apoptosis</text>
<text class="r" x="463" y="804">Protein</text><text class="r" x="463" y="812">synthesis</text>
<text class="r" x="517" y="988">Cortical</text><text class="r" x="517" y="996">dendrite</text><text class="r" x="517" y="1004">differentiation</text>
<text class="r" x="551" y="1021">Calcification</text>
<text class="r" x="622" y="1005">Neuronal growth,</text><text class="r" x="622" y="1013">differentiation,</text><text class="r" x="622" y="1021">and protection</text>
<text class="r" x="669" y="968">Cerebellar</text><text class="r" x="669" y="976">granule</text><text class="r" x="669" y="984">neuronal</text><text class="r" x="669" y="992">survival</text>
<text class="r" x="754" y="968">Nitric oxide</text><text class="r" x="754" y="976">production</text>
<text class="r" x="721" y="1006">Human airway</text><text class="r" x="721" y="1014">smooth muscle cell</text><text class="r" x="721" y="1022">proliferation</text>
<text class="r" x="121" y="1021">Synaptic plasticity</text>
<text class="rs" x="364" y="430">membrane</text><text class="rs" x="364" y="437">bound</text>
<text class="rs" x="226" y="666">membrane</text><text class="rs" x="226" y="673">bound</text>
<text class="rs" x="416" y="665">Reduction in</text><text class="rs" x="416" y="671">phosphorylation</text>
<text class="rs" x="373" y="771">Reduction in</text><text class="rs" x="375" y="778">FOXO3 shuttle</text><text class="rs" x="375" y="785">to nucleus and</text><text class="rs" x="375" y="792">decrease in BIM</text>
<text class="rs" x="418" y="821">Release of RNG105</text><text class="rs" x="418" y="828">from RNA granules</text>
<text x="398" y="749" style="font-size:6px;text-anchor:start">Dissociation</text>
<text class="m" x="110" y="770">CY</text><text class="m" x="110" y="806">NU</text>
<text class="m" x="296" y="770">CY</text><text class="m" x="296" y="806">NU</text>
<text class="m" x="335" y="770">CY</text><text class="m" x="335" y="806">NU</text>
<text class="m" x="584" y="770">CY</text><text class="m" x="584" y="806">NU</text>
<text class="m" x="659" y="770">CY</text><text class="m" x="659" y="806">NU</text>
<text class="m" x="706" y="770">CY</text><text class="m" x="706" y="806">NU</text>
<text class="m" x="749" y="770">CY</text><text class="m" x="749" y="806">NU</text>
</g>

<!-- ======== LEGEND ======== -->
<g>
<rect x="793" y="703" width="199" height="318" fill="#fff" stroke="#666" stroke-width="1"/>
<text x="897" y="714" style="fill:#3333ff;font-size:8px">LEGEND</text>
<rect class="b" x="801" y="728" width="30" height="12"/><text x="816" y="734">Ligand</text>
<path class="pk" d="M816,740V752"/><circle cx="816" cy="759" r="7" fill="#ff2aa6"/>
<path d="M853,729A8,8 0 0 0 869,729M861,737V753" stroke="#111" stroke-width="2" fill="none"/>
<rect class="b" x="842" y="753" width="38" height="12"/><text x="861" y="759">Receptor</text>
<rect class="b" x="903" y="729" width="31" height="12"/><text x="918" y="735">Protein</text>
<rect class="b" x="940" y="729" width="29" height="12"/><text class="i" x="954" y="735">mRNA</text>
<rect class="g" x="903" y="752" width="67" height="14"/><text x="936" y="759">Enzyme complex</text>
<path class="G" d="M802,779H836" marker-end="url(#ag)"/><text class="lg" x="840" y="779">Protein-protein interaction</text>
<path class="K" d="M802,792H836" marker-end="url(#ak)"/><text class="lg" x="838" y="792">Leads to through unknown mechanism</text>
<path d="M802,802H824V807H830" stroke="#111" fill="none"/><path d="M830,804L836,807L830,810z" fill="#fff" stroke="#111"/><text class="lg" x="838" y="806">Positive regulation of gene expression</text>
<path d="M802,815H810M810,811V819M818,815H828V819H832" stroke="#111" fill="none"/><path d="M832,816L838,819L832,822z" fill="#fff" stroke="#111"/><text class="lg" x="838" y="819">Negative regulation of gene expression</text>
<path d="M820,833C820,825 832,825 833,832" stroke="#111" stroke-width="1.8" fill="none" marker-end="url(#ak)"/><text class="lg" x="842" y="831">Auto catalysis</text>
<path class="B" d="M802,844H836" marker-end="url(#ab)"/><text class="lg" x="841" y="844">Phosphorylation</text>
<path class="B" d="M802,857H836" style="stroke:#22eeff" marker-end="url(#ac)"/><text class="lg" x="841" y="857">Dephosphorylation</text>
<path class="M" d="M802,869H836" marker-end="url(#am)"/><text class="lg" x="841" y="869">Ubiquitination</text>
<path class="Y" d="M802,881H836" marker-end="url(#ay)"/><text class="lg" x="838" y="881">Proteolytic cleavage</text>
<path class="R" d="M802,892H833" marker-end="url(#ai)" style="stroke:#ee1144"/><text class="lg" x="842" y="892">Inhibition</text>
<path class="C" d="M802,905H836" marker-end="url(#ac)"/><text class="lg" x="840" y="905">Transport</text>
<rect class="b" x="802" y="912" width="36" height="12"/><text x="820" y="918">Protein</text><circle cx="838" cy="923" r="5" fill="#fff" stroke="#111"/><text class="lg" x="843" y="919">PTM state</text>
<rect class="c" x="802" y="932" width="36" height="12"/><text x="820" y="938">Protein</text><text class="lg" x="841" y="938">Induced activation</text>
<ellipse class="mol" cx="819" cy="954" rx="20" ry="7"/><text x="819" y="954">Molecule</text><text class="lg" x="841" y="955">Small molecule</text>
<path class="M" d="M834,966V982" marker-start="url(#am)" marker-end="url(#am)"/><text class="lg" x="839" y="972">Translocation</text>
<text class="m" x="830" y="990">PM</text><text class="lg" x="840" y="990">Plasma membrane</text>
<text class="m" x="830" y="1002">CY</text><text class="lg" x="840" y="1002">Cytoplasm</text>
<text class="m" x="830" y="1013">NU</text><text class="lg" x="841" y="1013">Nucleus</text>
</g>
</svg>
</body></html>
